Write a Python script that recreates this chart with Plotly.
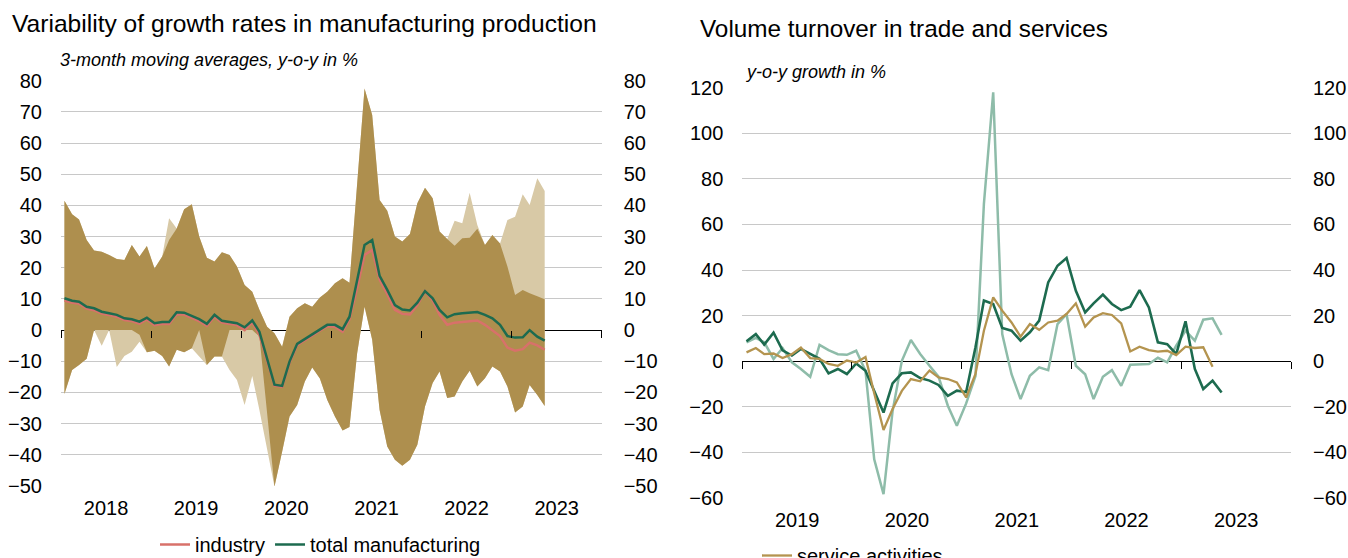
import pandas as pd
import plotly.graph_objects as go

# ---------------- data: left chart (monthly, Jan 2018 - May 2023) ----------------
months_left = pd.date_range("2018-01-01", periods=65, freq="MS") + pd.Timedelta(days=14)

range_full_upper = [41.5, 37.2, 35.5, 28.9, 25.5, 25.1, 24.1, 22.8, 22.5, 27.3,
                    23.6, 27.0, 19.8, 23.6, 35.9, 32.6, 38.8, 40.4, 30.0, 23.2,
                    22.0, 25.0, 24.1, 20.4, 14.5, 12.3, 6.5, 1.1, -1.0, -5.3,
                    4.3, 7.0, 8.6, 7.5, 10.5, 12.3, 15.0, 16.6, 15.2, 46.0,
                    77.5, 69.0, 41.7, 38.3, 30.0, 28.4, 30.8, 40.7, 45.7, 42.3,
                    31.6, 29.2, 35.1, 34.3, 44.1, 33.7, 27.3, 30.5, 27.8, 35.3,
                    36.4, 43.6, 40.1, 48.7, 44.6]
range_full_lower = [-20.5, -12.8, -11.2, -9.2, 0.0, -5.0, 0.0, -11.8, -8.3, -6.9,
                    -3.7, -7.1, -6.6, -8.3, -11.7, -6.3, -7.1, -5.8, -8.5, -11.2,
                    -8.5, -8.5, -12.8, -16.0, -24.0, -14.7, -25.6, -38.0, -50.2, -39.0,
                    -27.7, -24.0, -16.5, -12.0, -15.5, -22.4, -27.7, -32.2, -31.1, -7.4,
                    7.5, -3.1, -25.6, -37.3, -41.6, -43.5, -41.6, -36.8, -24.5, -17.0,
                    -13.3, -21.8, -21.3, -16.5, -13.0, -18.1, -15.4, -11.7, -13.3, -18.1,
                    -26.4, -24.5, -17.6, -20.8, -24.3]
range_core_upper = [41.5, 37.2, 35.5, 28.9, 25.5, 25.1, 24.1, 22.8, 22.5, 27.3,
                    23.6, 27.0, 19.8, 23.6, 28.9, 32.6, 38.8, 40.4, 30.0, 23.2,
                    22.0, 25.0, 24.1, 20.4, 14.5, 12.3, 6.5, 1.1, -1.0, -5.3,
                    4.3, 7.0, 8.6, 7.5, 10.5, 12.3, 15.0, 16.6, 15.2, 46.0,
                    77.5, 69.0, 41.7, 38.3, 30.0, 28.4, 30.8, 40.7, 45.7, 42.3,
                    31.6, 29.2, 27.1, 29.5, 29.6, 32.5, 27.3, 30.5, 27.8, 20.4,
                    11.3, 12.9, 11.8, 10.9, 9.9]
range_core_lower = [-20.5, -12.8, -11.2, -9.2, 0.0, 0.0, 0.0, 0.0, 0.0, 0.0,
                    -1.5, -7.1, -6.6, -8.3, -11.7, -6.3, -7.1, -5.8, 0.0, -11.2,
                    -8.5, -8.5, 0.0, 0.0, 0.0, 0.0, -2.0, -25.9, -50.2, -39.0,
                    -27.7, -24.0, -16.5, -12.0, -15.5, -22.4, -27.7, -32.2, -31.1, -7.4,
                    7.5, -3.1, -25.6, -37.3, -41.6, -43.5, -41.6, -36.8, -24.5, -17.0,
                    -13.3, -21.8, -21.3, -16.5, -13.0, -18.1, -15.4, -11.7, -13.3, -18.1,
                    -26.4, -24.5, -17.6, -20.8, -24.3]
industry = [9.5, 8.8, 8.5, 6.9, 6.4, 5.3, 4.8, 4.3, 3.2, 2.9,
            2.1, 3.4, 1.6, 2.0, 2.0, 5.1, 5.0, 3.9, 2.9, 1.4,
            4.3, 2.4, 2.1, 1.6, 0.0, 2.5, -1.5, -9.5, -17.8, -18.2,
            -10.5, -4.8, -3.2, -1.6, -0.2, 1.2, 1.1, -0.5, 3.5, 13.5,
            24.1, 25.7, 16.2, 11.5, 6.5, 5.2, 5.0, 8.0, 12.5, 9.5,
            4.9, 1.7, 2.4, 2.6, 2.9, 3.1, 1.7, 0.0, -1.9, -5.6,
            -6.6, -6.1, -4.0, -4.9, -6.3]
total_manufacturing = [10.2, 9.4, 9.1, 7.5, 7.0, 5.9, 5.4, 4.9, 3.8, 3.5,
                       2.7, 4.0, 2.2, 2.6, 2.6, 5.7, 5.6, 4.5, 3.5, 2.0,
                       4.9, 3.0, 2.7, 2.2, 0.9, 3.1, -0.5, -9.0, -17.5, -17.9,
                       -10.1, -4.4, -2.9, -1.3, 0.2, 1.7, 1.7, 0.3, 4.3, 15.5,
                       27.3, 28.9, 17.4, 12.9, 8.0, 6.6, 6.3, 8.8, 12.5, 10.2,
                       6.5, 4.1, 5.1, 5.4, 5.6, 5.8, 4.9, 3.8, 1.7, -1.9,
                       -2.4, -2.3, 0.0, -2.1, -3.4]

# ---------------- data: right chart (monthly, Jan 2019 - May 2023) ----------------
months_right = pd.date_range("2019-01-01", periods=53, freq="MS") + pd.Timedelta(days=14)

service_activities = [3.9, 5.8, 3.1, 3.4, 1.4, 3.1, 6.0, 1.4, 1.0, -1.2,
                      -2.0, 0.3, -0.6, 1.8, -14.0, -30.2, -21.0, -13.0, -7.8, -8.8,
                      -4.1, -7.1, -7.8, -9.3, -15.9, -5.6, 13.4, 28.0, 22.2, 17.0,
                      10.8, 16.3, 13.8, 17.0, 17.8, 20.7, 25.4, 15.2, 19.2, 21.1,
                      20.3, 16.6, 4.3, 6.4, 4.9, 4.2, 4.6, 2.7, 6.4, 5.8,
                      6.1, -2.4]
retail_trade = [8.8, 11.9, 7.3, 12.5, 4.8, 2.5, 5.4, 3.4, 1.1, -5.3,
                -3.4, -5.6, -1.0, -4.2, -13.0, -22.5, -9.7, -5.3, -4.9, -7.4,
                -8.5, -10.4, -15.2, -12.9, -13.5, 6.1, 26.6, 25.1, 14.6, 13.4,
                9.0, 12.7, 17.8, 34.6, 41.9, 45.3, 30.9, 21.4, 25.4, 29.2,
                25.1, 22.4, 23.9, 31.2, 23.6, 8.3, 7.5, 3.1, 17.5, -3.4,
                -12.2, -8.5, -13.7]
motor_vehicle_trade = [8.3, 10.2, 8.3, 1.0, 5.8, -0.5, -3.4, -6.8, 7.2, 4.9,
                       3.1, 2.8, 4.6, -4.2, -43.0, -58.3, -22.0, 0.2, 9.3, 3.2,
                       -2.0, -6.8, -19.5, -28.3, -18.5, -6.5, 69.0, 118.0, 11.9, -5.7,
                       -16.6, -6.4, -2.7, -3.9, 16.3, 20.7, -2.0, -5.7, -16.6, -6.8,
                       -3.9, -10.8, -1.5, -1.5, -1.2, 1.5, -0.5, 6.8, 13.4, 9.0,
                       18.2, 18.8, 11.6]

left_ticks = list(range(-50, 81, 10))
right_ticks = list(range(-60, 121, 20))

# ---------------- styling ----------------
FONT = "Liberation Sans, Arial, sans-serif"
DARK_BAND = "#AE8F4E"
LIGHT_BAND = "#D8C9A6"
RED = "#D8716A"
GREEN = "#1D6B4F"
TAN = "#B4944F"
LIGHT_GREEN = "#8EBCA9"
GRID = "#C8C8C8"

W, H = 1348, 558

def fx(px):
    return px / W

def fy(py):
    return 1 - py / H

L_X = [fx(61), fx(601.7)]
L_Y = [fy(486), fy(80.7)]
R_X = [fx(742.3), fx(1291)]
R_Y = [fy(498), fy(87.7)]

def zero_pos(dom, lo, hi):
    return dom[0] + (0 - lo) / (hi - lo) * (dom[1] - dom[0])

fig = go.Figure()

# left: bands
fig.add_trace(go.Scatter(x=months_left, y=range_full_lower, mode="lines",
                         line=dict(width=0), showlegend=False, hoverinfo="skip",
                         xaxis="x", yaxis="y"))
fig.add_trace(go.Scatter(x=months_left, y=range_full_upper, mode="lines",
                         line=dict(width=0), fill="tonexty", fillcolor=LIGHT_BAND,
                         showlegend=False, hoverinfo="skip", xaxis="x", yaxis="y"))
fig.add_trace(go.Scatter(x=months_left, y=range_core_lower, mode="lines",
                         line=dict(width=0), showlegend=False, hoverinfo="skip",
                         xaxis="x", yaxis="y"))
fig.add_trace(go.Scatter(x=months_left, y=range_core_upper, mode="lines",
                         line=dict(width=0), fill="tonexty", fillcolor=DARK_BAND,
                         showlegend=False, hoverinfo="skip", xaxis="x", yaxis="y"))
fig.add_trace(go.Scatter(x=months_left, y=industry, mode="lines", name="industry",
                         line=dict(color=RED, width=2.5), legend="legend",
                         xaxis="x", yaxis="y"))
fig.add_trace(go.Scatter(x=months_left, y=total_manufacturing, mode="lines",
                         name="total manufacturing", line=dict(color=GREEN, width=2.5),
                         legend="legend", xaxis="x", yaxis="y"))
# helper (empty) traces that register the mirrored / zero-line axes
fig.add_trace(go.Scatter(x=[None], y=[None], xaxis="x3", yaxis="y", showlegend=False,
                         hoverinfo="skip"))
fig.add_trace(go.Scatter(x=[None], y=[None], xaxis="x", yaxis="y3", showlegend=False,
                         hoverinfo="skip"))

# right: lines
fig.add_trace(go.Scatter(x=months_right, y=motor_vehicle_trade, mode="lines",
                         name="sales of motor vehicles", line=dict(color=LIGHT_GREEN, width=2.5),
                         showlegend=False, xaxis="x2", yaxis="y2"))
fig.add_trace(go.Scatter(x=months_right, y=retail_trade, mode="lines",
                         name="retail trade", line=dict(color=GREEN, width=2.6),
                         showlegend=False, xaxis="x2", yaxis="y2"))
fig.add_trace(go.Scatter(x=months_right[:len(service_activities)], y=service_activities,
                         mode="lines", name="service activities",
                         line=dict(color=TAN, width=2.3), legend="legend2",
                         xaxis="x2", yaxis="y2"))
fig.add_trace(go.Scatter(x=[None], y=[None], xaxis="x4", yaxis="y2", showlegend=False,
                         hoverinfo="skip"))
fig.add_trace(go.Scatter(x=[None], y=[None], xaxis="x2", yaxis="y4", showlegend=False,
                         hoverinfo="skip"))

tickfont = dict(family=FONT, size=20, color="#000")

common_x = dict(type="date", dtick="M12", tickformat="%Y", ticklabelmode="period",
                ticks="", showgrid=False, zeroline=False, showline=False,
                tickfont=tickfont, ticklabelstandoff=8)
common_zero_x = dict(type="date", dtick="M12", ticks="outside", ticklen=7, tickwidth=1,
                     tickcolor="#000", showticklabels=False, showgrid=False,
                     zeroline=False, showline=False, anchor="free")
common_y = dict(showgrid=True, gridcolor=GRID, gridwidth=1.3, zeroline=True,
                zerolinecolor="#000", zerolinewidth=1.2, ticks="", showline=False,
                tickfont=tickfont, ticklabelstandoff=18)
common_y_right = dict(showgrid=False, zeroline=False, ticks="", showline=False,
                      tickfont=tickfont, side="right", ticklabelstandoff=21)

fig.update_layout(
    width=W, height=H,
    margin=dict(l=0, r=0, t=0, b=0, autoexpand=False),
    paper_bgcolor="white", plot_bgcolor="white",
    font=dict(family=FONT, size=20, color="#000"),
    hovermode=False,
    xaxis=dict(domain=L_X, anchor="y", range=["2018-01-01", "2024-01-01"],
               tick0="2018-01-01", **common_x),
    yaxis=dict(domain=L_Y, anchor="x", range=[-50, 80], tickvals=left_ticks, **common_y),
    yaxis3=dict(overlaying="y", anchor="x", range=[-50, 80], tickvals=left_ticks,
                **common_y_right),
    xaxis3=dict(overlaying="x", range=["2018-01-01", "2024-01-01"], tick0="2018-01-01",
                position=zero_pos(L_Y, -50, 80), **common_zero_x),
    xaxis2=dict(domain=R_X, anchor="y2", range=["2019-01-01", "2024-01-01"],
                tick0="2019-01-01", **common_x),
    yaxis2=dict(domain=R_Y, anchor="x2", range=[-60, 120], tickvals=right_ticks, **common_y),
    yaxis4=dict(overlaying="y2", anchor="x2", range=[-60, 120], tickvals=right_ticks,
                **common_y_right),
    xaxis4=dict(overlaying="x2", range=["2019-01-01", "2024-01-01"], tick0="2019-01-01",
                position=zero_pos(R_Y, -60, 120), **common_zero_x),
    legend=dict(orientation="h", x=fx(155), xanchor="left", y=fy(525), yanchor="top",
                bgcolor="rgba(0,0,0,0)", font=dict(family=FONT, size=20, color="#000"),
                itemwidth=30, traceorder="normal"),
    legend2=dict(orientation="h", x=fx(757), xanchor="left", y=fy(536), yanchor="top",
                 bgcolor="rgba(0,0,0,0)", font=dict(family=FONT, size=20, color="#000"),
                 itemwidth=30, traceorder="normal"),
    showlegend=True,
    annotations=[
        dict(text="Variability of growth rates in manufacturing production", xref="paper",
             yref="paper", x=fx(10), y=fy(23), xanchor="left", yanchor="middle",
             showarrow=False, font=dict(family=FONT, size=24.6, color="#000")),
        dict(text="<i>3-month moving averages, y-o-y in %</i>", xref="paper", yref="paper",
             x=fx(58), y=fy(60), xanchor="left", yanchor="middle", showarrow=False,
             font=dict(family=FONT, size=18, color="#000")),
        dict(text="Volume turnover in trade and services", xref="paper", yref="paper",
             x=fx(698), y=fy(28), xanchor="left", yanchor="middle", showarrow=False,
             font=dict(family=FONT, size=24.3, color="#000")),
        dict(text="<i>y-o-y growth in %</i>", xref="paper", yref="paper",
             x=fx(743), y=fy(72), xanchor="left", yanchor="middle", showarrow=False,
             font=dict(family=FONT, size=18, color="#000")),
    ],
)

# remove the default 8px page margin so the 1348x558 figure fills the window exactly
fig.write_html("out.html",
               config={"displayModeBar": False, "staticPlot": False},
               post_script="document.body.style.margin='0';document.body.style.overflow='hidden';")
